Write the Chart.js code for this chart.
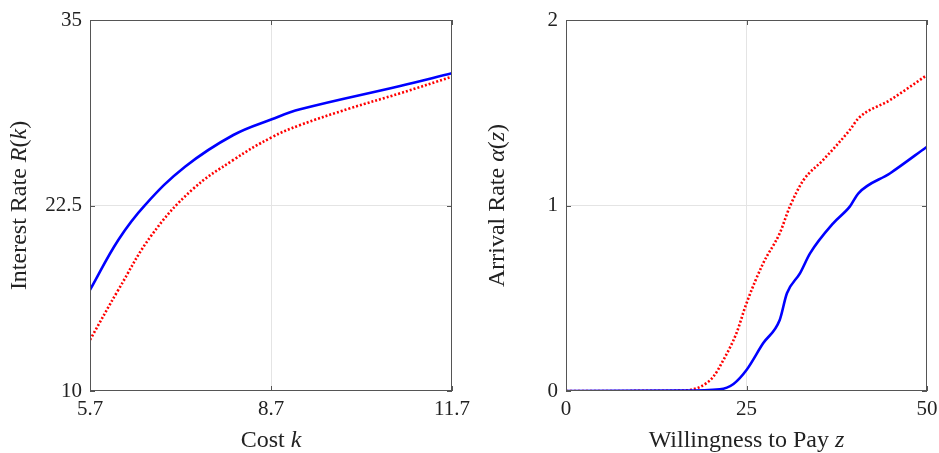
<!DOCTYPE html>
<html>
<head>
<meta charset="utf-8">
<script src="https://cdn.jsdelivr.net/npm/chart.js@4.4.1/dist/chart.umd.min.js"></script>
<style>
html, body { margin: 0; padding: 0; background: #fff; }
#wrap { position: relative; width: 939px; height: 453px; }
canvas { position: absolute; top: 0; }
</style>
</head>
<body>
<div id="wrap">
  <canvas id="left" width="470" height="453" style="left:0"></canvas>
  <canvas id="right" width="469" height="453" style="left:470px"></canvas>
</div>
<script>
// left panel: interest rate vs cost
const costBlue = [5.7, 6.169, 6.612, 7.275, 8.076, 8.713, 9.183, 10.84, 11.7];
const rateBlue = [16.81, 20.18, 22.53, 25.11, 27.25, 28.31, 28.98, 30.55, 31.41];
const costRed = [5.7, 6.169, 6.723, 7.387, 8.076, 8.713, 9.183, 10.012, 10.84, 11.7];
const rateRed = [13.44, 16.81, 20.51, 23.54, 25.57, 27.10, 27.92, 29.05, 30.06, 31.18];
const costTicks = [5.7, 8.7, 11.7];
const rateTicks = [10, 22.5, 35];

// right panel: arrival rate vs willingness to pay
const zBlue = [0, 15.8, 21.3, 23.2, 25.0, 27.3, 29.6, 30.6, 32.4, 33.8, 37.0, 39.3, 40.5, 44.9, 50];
const alphaBlue = [0, 0.002, 0.009, 0.038, 0.113, 0.257, 0.383, 0.527, 0.634, 0.742, 0.904, 0.994, 1.066, 1.174, 1.317];
const zRed = [0, 15.8, 18.6, 20.4, 21.8, 23.6, 25.0, 27.3, 29.6, 31.0, 32.9, 35.6, 39.3, 40.5, 44.9, 50];
const alphaRed = [0, 0.002, 0.023, 0.077, 0.167, 0.311, 0.473, 0.688, 0.85, 0.994, 1.137, 1.245, 1.407, 1.47, 1.569, 1.703];
const zTicks = [0, 25, 50];
const alphaTicks = [0, 1, 2];

const FONT = "'Liberation Serif', 'Times New Roman', serif";

const pts = (xs, ys) => xs.map((x, i) => ({ x: x, y: ys[i] }));

// draws the box, inward tick marks and the mixed italic axis titles
const framePlugin = {
    id: 'frame',
    afterDraw(chart, args, opts) {
        const ctx = chart.ctx;
        const a = chart.chartArea;
        const xs = chart.scales.x, ys = chart.scales.y;
        ctx.save();
        ctx.strokeStyle = '#555';
        ctx.lineWidth = 1;
        ctx.strokeRect(a.left + 0.5, a.top + 0.5, a.right - a.left - 1, a.bottom - a.top - 1);
        ctx.beginPath();
        opts.xTicks.forEach(v => {
            const p = Math.round(xs.getPixelForValue(v)) + 0.5;
            ctx.moveTo(p, a.bottom); ctx.lineTo(p, a.bottom - 5);
            ctx.moveTo(p, a.top); ctx.lineTo(p, a.top + 5);
        });
        opts.yTicks.forEach(v => {
            const p = Math.round(ys.getPixelForValue(v)) + 0.5;
            ctx.moveTo(a.left, p); ctx.lineTo(a.left + 5, p);
            ctx.moveTo(a.right, p); ctx.lineTo(a.right - 5, p);
        });
        ctx.stroke();

        const drawTitle = (parts, cx, cy, rot) => {
            ctx.save();
            ctx.translate(cx, cy);
            ctx.rotate(rot);
            ctx.fillStyle = '#222';
            ctx.textBaseline = 'middle';
            ctx.textAlign = 'left';
            let total = 0;
            parts.forEach(p => { ctx.font = (p.i ? 'italic ' : '') + '24px ' + FONT; total += ctx.measureText(p.t).width; });
            let x = -total / 2;
            parts.forEach(p => {
                ctx.font = (p.i ? 'italic ' : '') + '24px ' + FONT;
                ctx.fillText(p.t, x, 0);
                x += ctx.measureText(p.t).width;
            });
            ctx.restore();
        };
        drawTitle(opts.xTitle, (a.left + a.right) / 2, 441, 0);
        drawTitle(opts.yTitle, opts.yTitleX, (a.top + a.bottom) / 2, -Math.PI / 2);
        ctx.restore();
    }
};

function makePanel(id, blue, red, smooth, xMin, xMax, xTicks, yMin, yMax, yTicks, yWidth, padRight, xTitle, yTitle, yTitleX) {
    const gridColor = c => (c.index === 0 || c.index === c.scale.ticks.length - 1) ? 'rgba(0,0,0,0)' : '#e4e4e4';
    const noPad = s => { s.paddingLeft = 0; s.paddingRight = 0; s.paddingTop = 0; s.paddingBottom = 0; };
    const lineOpts = smooth ? { tension: 0.4 } : { cubicInterpolationMode: 'monotone' };
    return new Chart(document.getElementById(id), {
        type: 'line',
        data: {
            datasets: [Object.assign({
                data: blue,
                borderColor: '#0000ff',
                borderWidth: 2.6,
                pointRadius: 0
            }, lineOpts), Object.assign({
                data: red,
                borderColor: '#ff0000',
                borderWidth: 2.6,
                borderDash: [2, 2],
                pointRadius: 0
            }, lineOpts)]
        },
        options: {
            responsive: false,
            animation: false,
            layout: { padding: { left: 0, right: padRight, top: 20, bottom: 0 } },
            plugins: {
                legend: { display: false },
                tooltip: { enabled: false },
                frame: { xTicks: xTicks, yTicks: yTicks, xTitle: xTitle, yTitle: yTitle, yTitleX: yTitleX }
            },
            scales: {
                x: {
                    type: 'linear',
                    min: xMin, max: xMax,
                    afterBuildTicks: s => { s.ticks = xTicks.map(v => ({ value: v })); },
                    afterFit: s => { s.height = 62; noPad(s); },
                    grid: { color: gridColor, drawTicks: false },
                    border: { display: false },
                    ticks: { padding: 6, color: '#222', font: { family: FONT, size: 21 }, maxRotation: 0, callback: v => String(v) }
                },
                y: {
                    min: yMin, max: yMax,
                    afterBuildTicks: s => { s.ticks = yTicks.map(v => ({ value: v })); },
                    afterFit: s => { s.width = yWidth; noPad(s); },
                    grid: { color: gridColor, drawTicks: false },
                    border: { display: false },
                    ticks: { padding: 8, color: '#222', font: { family: FONT, size: 21 }, callback: v => String(v) }
                }
            }
        },
        plugins: [framePlugin]
    });
}

makePanel('left', pts(costBlue, rateBlue), pts(costRed, rateRed), true, 5.7, 11.7, costTicks, 10, 35, rateTicks, 90, 18,
    [{ t: 'Cost ' }, { t: 'k', i: true }],
    [{ t: 'Interest Rate ' }, { t: 'R', i: true }, { t: '(' }, { t: 'k', i: true }, { t: ')' }], 20);

makePanel('right', pts(zBlue, alphaBlue), pts(zRed, alphaRed), false, 0, 50, zTicks, 0, 2, alphaTicks, 96, 12,
    [{ t: 'Willingness to Pay ' }, { t: 'z', i: true }],
    [{ t: 'Arrival Rate ' }, { t: 'α', i: true }, { t: '(' }, { t: 'z', i: true }, { t: ')' }], 28);
</script>
</body>
</html>
